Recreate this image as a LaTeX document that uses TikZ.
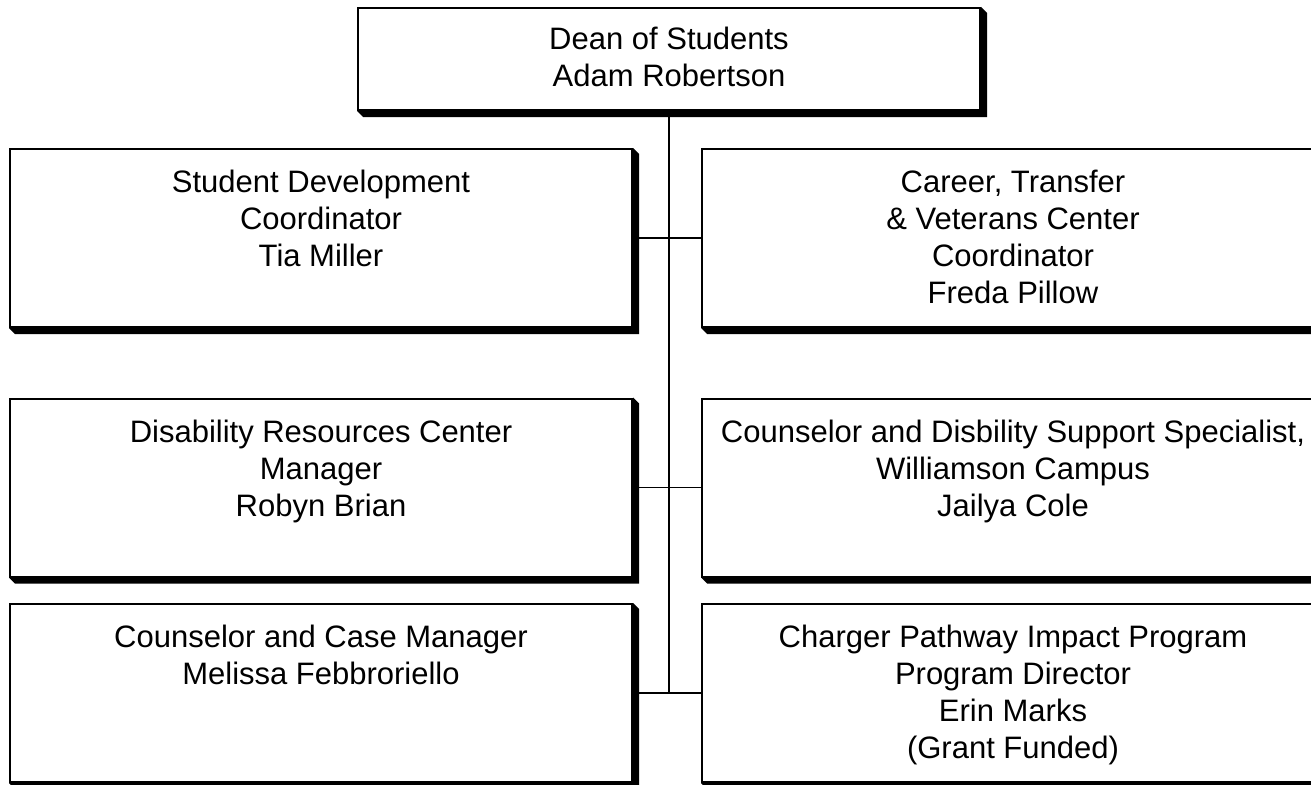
\documentclass[tikz,border=0pt]{standalone}
\usepackage{fontspec}
\setmainfont{Liberation Sans}
\begin{document}
\begin{tikzpicture}[x=1pt,y=-1pt]
      \tikzstyle{box}=[draw,line width=2pt,fill=white,minimum width=622pt,minimum height=178pt,inner sep=0pt]
      \tikzstyle{txt}=[anchor=north,align=center,inner sep=0pt,yshift=-22pt,font=\fontsize{31pt}{37pt}\selectfont]
      \tikzstyle{link}=[line width=1.5pt]
      \useasboundingbox (0,0) rectangle (1311,784);

      \node[box,minimum height=102pt] (dean) at (669,59) {};
      \node[box] (dev) at (321,238) {};
      \node[box] (career) at (1013,238) {};
      \node[box] (drc) at (321,487.5) {};
      \node[box] (cdss) at (1013,487.5) {};
      \node[box] (ccm) at (321,693) {};
      \node[box] (cpip) at (1013,693) {};

      % shadows
      \foreach \n in {dean,dev,career,drc,cdss,ccm,cpip}
        \fill (\n.north east) -- ++(6,6) |- ([shift={(6,6)}]\n.south west) -- (\n.south west) -- (\n.south east) -- cycle;

      \node[txt,yshift=2.5pt] (deantxt) at (dean.north) {Dean of Students\\Adam Robertson};
      \node[txt] (devtxt) at (dev.north) {Student Development\\Coordinator\\Tia Miller};
      \node[txt] (careertxt) at (career.north) {Career, Transfer\\\& Veterans Center\\Coordinator\\Freda Pillow};
      \node[txt] (drctxt) at (drc.north) {Disability Resources Center\\Manager\\Robyn Brian};
      \node[txt] (cdsstxt) at (cdss.north) {Counselor and Disbility Support Specialist,\\Williamson Campus\\Jailya Cole};
      \node[txt] (ccmtxt) at (ccm.north) {Counselor and Case Manager\\Melissa Febbroriello};
      \node[txt] (cpiptxt) at (cpip.north) {Charger Pathway Impact Program\\Program Director\\Erin Marks\\(Grant Funded)};

      \draw[link] (dean.south) -- (dean.south |- ccm.east);
      \draw[link] (dev.east) -- (career.west);
      \draw[link] (drc.east) -- (cdss.west);
      \draw[link] (ccm.east) -- (cpip.west);
\end{tikzpicture}
\end{document}
